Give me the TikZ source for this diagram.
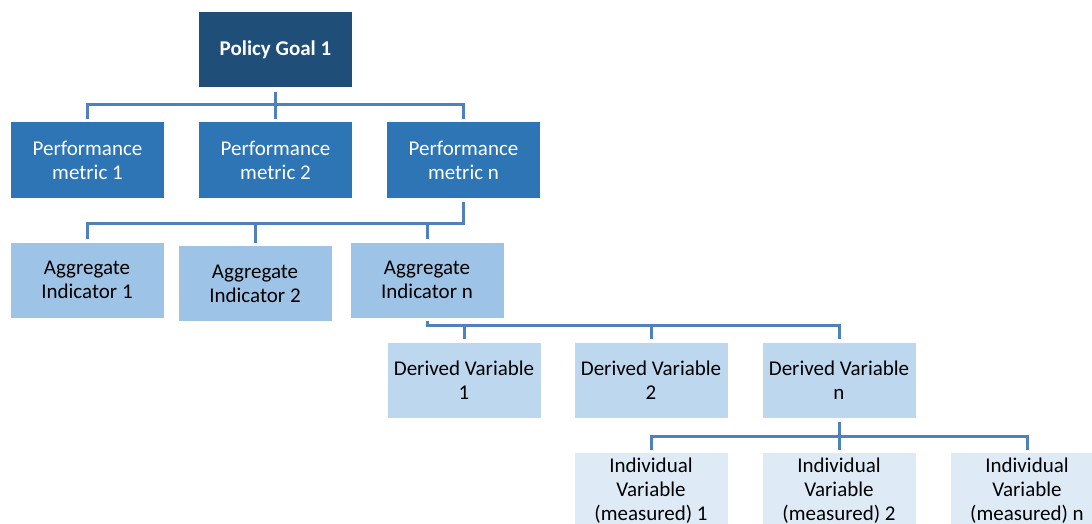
\documentclass[tikz,border=0pt]{standalone}
\usepackage{fontspec}
\setmainfont{Carlito}
\definecolor{goalblue}{RGB}{31,78,121}
\definecolor{metricblue}{RGB}{46,117,182}
\definecolor{aggblue}{RGB}{157,195,230}
\definecolor{derivblue}{RGB}{189,215,238}
\definecolor{indivblue}{RGB}{222,235,247}
\definecolor{linkblue}{RGB}{79,129,189}
\begin{document}
\begin{tikzpicture}[x=1pt,y=-1pt,
    box/.style={minimum width=153pt,minimum height=75pt,inner sep=0pt,align=center,font=\fontsize{21}{24}\selectfont},
    goalbox/.style={box,fill=goalblue,text=white,font=\fontsize{21}{24}\selectfont\bfseries},
    metricbox/.style={box,fill=metricblue,text=white},
    aggbox/.style={box,fill=aggblue},
    derivbox/.style={box,fill=derivblue},
    indivbox/.style={box,fill=indivblue},
    link/.style={line width=3pt,linkblue}]
      \useasboundingbox (0,0) rectangle (1092,524);
      \clip (0,0) rectangle (1092,524);

      \node[goalbox] (goal) at (275.5,50) {Policy Goal 1};

      \node[metricbox] (pm1) at (87.5,160) {Performance\\metric 1};
      \node[metricbox] (pm2) at (275.5,160) {Performance\\metric 2};
      \node[metricbox] (pm3) at (463.5,160) {Performance\\metric n};

      \node[aggbox] (ai1) at (87,280) {Aggregate\\Indicator 1};
      \node[aggbox] (ai2) at (255,283.5) {Aggregate\\Indicator 2};
      \node[aggbox] (ai3) at (427,280) {Aggregate\\Indicator n};

      \node[derivbox] (dv1) at (464,380) {Derived Variable\\1};
      \node[derivbox] (dv2) at (651,380) {Derived Variable\\2};
      \node[derivbox] (dv3) at (839,380) {Derived Variable\\n};

      \node[indivbox] (iv1) at (651,490.5) {Individual\\Variable\\(measured) 1};
      \node[indivbox] (iv2) at (839,490.5) {Individual\\Variable\\(measured) 2};
      \node[indivbox] (iv3) at (1027,490.5) {Individual\\Variable\\(measured) n};

      % goal to metrics
      \coordinate (bus1) at (0,105);
      \draw[link] ([yshift=-4pt]goal.south) -- ([yshift=3pt]pm2.north);
      \draw[link] ([yshift=3pt]pm1.north) -- (pm1.north |- bus1) -- (pm3.north |- bus1) -- ([yshift=3pt]pm3.north);

      % metric n to indicators
      \coordinate (bus2) at (0,223);
      \draw[link] ([yshift=-4pt]pm3.south) -- (pm3.south |- bus2) -- (ai1.north |- bus2) -- ([yshift=3pt]ai1.north);
      \draw[link] (ai2.north |- bus2) -- ([yshift=3pt]ai2.north);
      \draw[link] (ai3.north |- bus2) -- ([yshift=3pt]ai3.north);

      % indicator n to derived
      \coordinate (bus3) at (0,325);
      \draw[link] ([yshift=-3pt]ai3.south) -- (ai3.south |- bus3) -- (dv3.north |- bus3) -- ([yshift=3pt]dv3.north);
      \draw[link] (dv1.north |- bus3) -- ([yshift=3pt]dv1.north);
      \draw[link] (dv2.north |- bus3) -- ([yshift=3pt]dv2.north);

      % derived n to individual
      \coordinate (bus4) at (0,436);
      \draw[link] ([yshift=-4pt]dv3.south) -- ([yshift=3pt]iv2.north);
      \draw[link] ([yshift=3pt]iv1.north) -- (iv1.north |- bus4) -- (iv3.north |- bus4) -- ([yshift=3pt]iv3.north);
    \end{tikzpicture}
\end{document}
